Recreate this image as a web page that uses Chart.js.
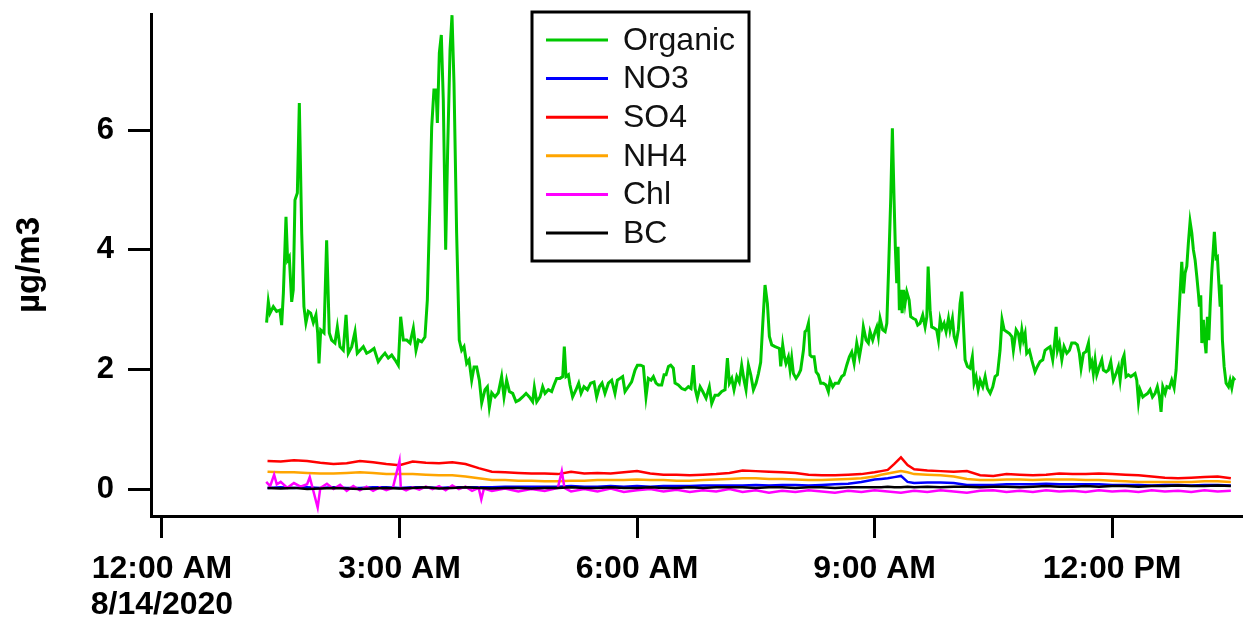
<!DOCTYPE html>
<html>
<head>
<meta charset="utf-8">
<title>Aerosol composition, 8/14/2020</title>
<script src="https://cdn.jsdelivr.net/npm/chart.js@4.4.1/dist/chart.umd.min.js"></script>
<style>
  html, body { margin: 0; padding: 0; background: #fff; }
  #wrap { width: 1243px; height: 620px; }
</style>
</head>
<body>
<div id="wrap"><canvas id="chart" width="1243" height="620"></canvas></div>
<script>
// ---------------------------------------------------------------------------
//  Species mass concentrations (µg/m3) on 8/14/2020.
//  x values are minutes after midnight.
// ---------------------------------------------------------------------------

const FONT = '"Liberation Sans", Arial, Helvetica, sans-serif';

// axis ticks
const xTickMinutes = [0, 180, 360, 540, 720];
const xTickLabels = [["12:00 AM", "8/14/2020"], "3:00 AM", "6:00 AM", "9:00 AM", "12:00 PM"];
const yTickValues = [0, 2, 4, 6];

// series names / colours (legend order)
const seriesNames = ["Organic", "NO3", "SO4", "NH4", "Chl", "BC"];
const seriesColors = ["#00c800", "#0000ff", "#ff0000", "#ffa500", "#ff00ff", "#000000"];

// Organic — irregular samples following the trace
const orgMinutes = [
  79.3, 80.6, 81.9, 84.4, 86.9, 89.4, 90.7, 92.0, 94.0, 95.2, 96.5, 98.3, 99.5, 100.8, 102.6, 104.1, 105.9, 107.6, 109.1, 110.9,
  112.7, 114.7, 116.7, 118.0, 119.0, 120.3, 122.8, 124.8, 126.8, 128.6, 131.1, 132.9, 134.9, 137.4, 139.5, 141.2, 143.8, 146.3, 148.0, 150.1,
  152.6, 155.1, 157.6, 160.7, 163.9, 166.5, 169.0, 171.5, 174.1, 176.6, 179.1, 180.9, 182.9, 185.5, 188.0, 190.5, 192.5, 194.3, 196.8, 199.3,
  201.1, 203.1, 204.4, 206.1, 207.7, 208.7, 210.2, 211.7, 213.2, 215.0, 216.5, 218.3, 219.8, 221.3, 223.3, 225.3, 227.1, 228.9, 230.9, 232.7,
  234.7, 236.5, 238.5, 240.5, 242.3, 244.8, 246.6, 248.1, 249.9, 252.4, 254.9,
  257.4, 259.2, 261.2, 263.3, 265.8, 268.3, 270.8, 273.3, 275.9, 278.4, 280.9, 282.2, 284.0, 286.5, 288.5, 290.3, 292.8, 295.3, 297.1, 299.1,
  301.6, 303.7, 304.9, 306.2, 308.0, 309.2, 311.2, 313.8, 315.8, 317.6, 319.8, 322.4, 324.9, 327.4, 329.4, 331.5, 333.5, 335.7, 338.3, 340.8,
  343.3, 345.1, 347.1, 349.1, 350.9, 353.4, 355.9, 358.5, 360.3, 362.8, 364.8, 366.8, 368.6, 370.6, 372.4, 374.4, 376.2, 378.7, 380.5, 382.0,
  383.8, 385.5, 387.5, 388.8, 391.3, 393.9, 396.4, 398.9, 400.9, 402.7, 404.0, 405.7, 407.8, 409.8, 412.3, 414.8, 416.6, 419.1, 421.6, 424.2,
  426.7, 428.5, 430.0, 431.8, 433.5, 435.6, 437.5, 439.3, 441.1, 442.6, 444.4, 446.2, 448.2, 450.2, 452.0, 453.7, 455.3, 457.0, 458.8, 460.3,
  462.1, 464.6,
  467.9, 468.9, 470.4, 471.7, 472.9, 474.7, 476.0, 477.2, 478.5, 480.5, 482.3, 484.0, 486.1, 487.3, 488.6, 489.9, 491.1, 492.4, 494.2, 495.7,
  497.4, 499.2, 501.2, 503.2, 505.0, 506.3, 508.3, 510.1, 512.6, 515.1, 516.9, 518.9, 520.9, 522.7, 524.5, 526.5, 528.5, 530.3, 531.5, 533.6,
  535.3, 536.6, 538.6, 540.4, 541.7, 542.9, 544.2, 546.2, 548.0, 549.3, 550.7, 552.3, 553.5, 554.8, 555.8, 556.8, 557.8, 558.8, 559.8, 560.9,
  561.9, 563.1, 564.4, 566.2, 567.4, 569.4, 571.2, 572.7, 574.5, 576.5, 578.3, 579.6, 580.6, 582.1, 583.3, 585.1, 587.1, 588.4, 589.7, 591.2,
  592.7, 594.2, 596.0, 597.2, 599.0, 600.3, 601.8, 603.5, 604.8, 606.1, 607.3, 608.6, 610.4, 612.4, 614.1, 615.4, 616.9, 618.5, 620.0, 622.0,
  623.8, 625.5, 627.6, 629.6, 631.3, 633.1, 635.1, 636.6, 638.2, 640.2, 642.2, 644.0, 645.2, 647.3, 649.0,
  650.3, 651.6, 652.8, 654.1, 655.3, 657.3, 659.1, 661.6, 663.4, 665.4, 667.5, 669.2, 671.0, 673.0, 675.0, 676.3, 677.6, 678.6, 680.1, 681.9,
  683.6, 685.7, 687.7, 689.4, 692.0, 693.7, 695.2, 696.5, 698.3, 700.3, 702.1, 703.3, 704.6, 705.8, 707.1, 708.4, 710.4, 712.2, 713.4, 715.5,
  717.2, 719.0, 721.0, 723.0, 724.8, 726.1, 727.8, 729.1, 730.6, 732.4, 734.2, 736.2, 737.4, 738.7, 740.0, 741.2, 743.3, 745.0, 747.0, 748.8,
  750.6, 752.6, 754.3, 755.9, 757.1, 758.4, 760.2, 761.5, 763.4, 765.2, 767.0, 768.5, 770.3, 771.5, 772.8, 774.1, 775.3, 776.6, 777.8, 779.1,
  780.4, 781.6, 782.9, 784.2, 785.4, 786.2, 787.2, 788.0, 789.2, 790.2, 791.2, 792.2, 793.3, 794.3, 795.5, 796.8, 797.5, 798.8, 799.8, 800.9,
  801.9, 802.6, 803.6, 804.9, 806.4, 808.2, 809.4, 810.7, 812.0, 813.2
];
const orgValues = [
  2.78, 3.13, 2.94, 3.05, 2.97, 2.99, 2.74, 3.27, 4.55, 3.83, 3.88, 3.13, 3.33, 4.83, 4.95, 6.45, 4.28, 3.05, 2.78, 2.97,
  2.94, 2.78, 2.91, 2.61, 2.10, 2.66, 2.61, 4.16, 2.61, 2.49, 2.44, 2.71, 2.38, 2.32, 2.91, 2.27, 2.38, 2.63, 2.27, 2.32,
  2.38, 2.27, 2.30, 2.35, 2.13, 2.21, 2.27, 2.19, 2.24, 2.16, 2.07, 2.88, 2.49, 2.49, 2.44, 2.69, 2.32, 2.49, 2.46, 2.54,
  3.16, 4.83, 6.05, 6.67, 6.67, 6.12, 7.29, 7.59, 6.50, 4.00, 5.67, 7.34, 7.92, 6.79, 4.28, 2.49, 2.32, 2.38, 2.10, 2.16,
  1.82, 2.04, 2.04, 1.82, 1.44, 1.66, 1.71, 1.37, 1.61, 1.54, 1.61,
  1.88, 1.54, 1.82, 1.63, 1.60, 1.46, 1.49, 1.54, 1.60, 1.54, 1.46, 1.70, 1.46, 1.54, 1.71, 1.60, 1.66, 1.63, 1.74, 1.85,
  1.85, 1.88, 2.38, 1.88, 1.91, 1.74, 1.54, 1.66, 1.77, 1.60, 1.71, 1.66, 1.77, 1.79, 1.54, 1.71, 1.77, 1.60, 1.77, 1.82,
  1.60, 1.82, 1.85, 1.88, 1.63, 1.71, 1.79, 1.99, 2.07, 2.07, 2.05, 1.54, 1.85, 1.82, 1.88, 1.77, 1.74, 1.74, 1.91, 1.91,
  2.05, 2.07, 2.02, 1.77, 1.74, 1.68, 1.66, 1.71, 1.68, 2.07, 1.68, 1.52, 1.71, 1.63, 1.52, 1.71, 1.43, 1.57, 1.57, 1.63,
  1.66, 2.19, 1.77, 1.85, 1.66, 1.88, 1.79, 2.07, 1.82, 1.66, 2.07, 1.91, 1.66, 1.77, 1.93, 2.12, 2.77, 3.41, 3.10, 2.55,
  2.41, 2.38,
  2.35, 2.05, 2.41, 2.21, 2.10, 2.21, 1.99, 2.19, 1.93, 1.85, 1.91, 1.99, 2.32, 2.63, 2.66, 2.77, 2.24, 2.21, 2.21, 1.96,
  1.91, 1.77, 1.77, 1.74, 1.63, 1.82, 1.71, 1.77, 1.77, 1.88, 1.91, 2.07, 2.21, 2.29, 2.10, 2.44, 2.21, 2.44, 2.71, 2.49,
  2.44, 2.63, 2.49, 2.63, 2.71, 2.55, 2.85, 2.66, 2.63, 2.77, 3.72, 4.89, 6.03, 4.83, 4.00, 3.44, 4.05, 2.99, 3.33, 2.94,
  3.33, 3.10, 3.30, 3.16, 2.88, 2.85, 2.83, 2.74, 2.77, 2.91, 2.71, 2.88, 3.72, 2.99, 2.71, 2.69, 2.66, 2.49, 2.83, 2.69,
  2.77, 2.63, 2.85, 2.66, 2.85, 2.55, 2.44, 2.66, 3.10, 3.30, 2.77, 2.16, 2.05, 2.02, 2.21, 1.77, 1.88, 1.66, 1.82, 1.71,
  1.88, 1.68, 1.60, 1.71, 1.88, 1.91, 2.32, 2.83, 2.66, 2.63, 2.60, 2.55, 2.32, 2.66, 2.60,
  2.41, 2.66, 2.49, 2.60, 2.27, 2.32, 2.16, 1.96, 2.05, 2.13, 2.16, 2.32, 2.35, 2.38, 2.16, 2.41, 2.71, 2.32, 2.44, 2.16,
  2.38, 2.27, 2.32, 2.44, 2.44, 2.41, 2.27, 2.02, 2.27, 2.30, 2.44, 2.05, 2.13, 1.93, 2.16, 1.91, 2.05, 2.16, 1.99, 1.96,
  1.99, 2.13, 1.82, 1.93, 2.05, 1.82, 2.16, 2.24, 1.88, 1.91, 1.88, 1.91, 1.93, 1.82, 1.46, 1.66, 1.54, 1.57, 1.60, 1.66,
  1.54, 1.60, 1.71, 1.54, 1.29, 1.71, 1.60, 1.71, 1.69, 1.82, 1.69, 1.99, 2.77, 3.27, 3.80, 3.27, 3.61, 3.72, 4.11, 4.47,
  4.28, 4.00, 3.83, 3.55, 3.27, 3.05, 3.24, 2.44, 2.83, 2.49, 2.27, 2.88, 2.49, 3.05, 3.61, 4.05, 4.30, 3.86, 3.88, 3.44,
  3.05, 3.42, 2.49, 2.05, 1.77, 1.71, 1.82, 1.69, 1.85, 1.82
];

// NO3, SO4, NH4, BC — shared time grid
const lowMinutes = [
  80, 90, 100, 110, 120, 130, 140, 150, 160, 170,
  180, 190, 200, 210, 220, 230, 240, 250, 260, 270,
  280, 290, 300, 310, 320, 330, 340, 350, 360, 370,
  380, 390, 400, 410, 420, 430, 440, 450, 460, 470,
  480, 490, 500, 510, 520, 530, 540,
  545, 550, 555, 560, 565,
  570, 580, 590, 600, 610, 620, 630, 640, 650, 660,
  670, 680, 690, 700, 710, 720, 730, 740, 750, 760,
  770, 780, 790, 800, 810
];
const so4Values = [
  0.47, 0.46, 0.48, 0.47, 0.44, 0.42, 0.43, 0.47, 0.45, 0.42,
  0.40, 0.46, 0.44, 0.43, 0.45, 0.42, 0.35, 0.29, 0.28, 0.27,
  0.26, 0.26, 0.25, 0.29, 0.26, 0.27, 0.26, 0.28, 0.30, 0.26,
  0.24, 0.24, 0.23, 0.24, 0.25, 0.27, 0.31, 0.30, 0.29, 0.28,
  0.27, 0.24, 0.23, 0.23, 0.24, 0.25, 0.28,
  0.30, 0.32, 0.42, 0.53, 0.40,
  0.33, 0.31, 0.30, 0.29, 0.30, 0.23, 0.22, 0.25, 0.24, 0.23,
  0.24, 0.26, 0.25, 0.25, 0.26, 0.25, 0.24, 0.23, 0.21, 0.19,
  0.18, 0.19, 0.20, 0.21, 0.18
];
const nh4Values = [
  0.29, 0.28, 0.28, 0.27, 0.26, 0.26, 0.27, 0.28, 0.27, 0.25,
  0.25, 0.25, 0.24, 0.23, 0.23, 0.21, 0.18, 0.15, 0.15, 0.14,
  0.14, 0.13, 0.13, 0.14, 0.14, 0.15, 0.15, 0.15, 0.16, 0.15,
  0.15, 0.14, 0.14, 0.15, 0.16, 0.17, 0.18, 0.18, 0.17, 0.17,
  0.16, 0.15, 0.15, 0.16, 0.17, 0.18, 0.21,
  0.24, 0.26, 0.28, 0.30, 0.28,
  0.25, 0.24, 0.23, 0.21, 0.17, 0.15, 0.15, 0.16, 0.16, 0.15,
  0.16, 0.16, 0.16, 0.15, 0.15, 0.14, 0.13, 0.12, 0.12, 0.12,
  0.12, 0.12, 0.13, 0.13, 0.12
];
const no3Values = [
  0.02, 0.03, 0.02, 0.03, 0.02, 0.03, 0.02, 0.02, 0.03, 0.03,
  0.02, 0.03, 0.03, 0.02, 0.03, 0.03, 0.03, 0.03, 0.04, 0.04,
  0.04, 0.04, 0.04, 0.05, 0.04, 0.04, 0.05, 0.04, 0.05, 0.04,
  0.05, 0.05, 0.05, 0.06, 0.06, 0.06, 0.06, 0.07, 0.06, 0.07,
  0.07, 0.06, 0.07, 0.08, 0.09, 0.12, 0.16,
  0.17, 0.18, 0.20, 0.22, 0.12,
  0.10, 0.11, 0.11, 0.10, 0.07, 0.07, 0.07, 0.08, 0.08, 0.08,
  0.09, 0.08, 0.08, 0.08, 0.08, 0.07, 0.07, 0.07, 0.06, 0.07,
  0.07, 0.06, 0.07, 0.07, 0.06
];
const bcValues = [
  0.02, 0.01, 0.02, 0.00, 0.01, 0.02, 0.01, 0.00, 0.01, 0.02,
  0.01, 0.02, 0.03, 0.01, 0.02, 0.03, 0.02, 0.01, 0.02, 0.02,
  0.01, 0.02, 0.02, 0.03, 0.02, 0.02, 0.03, 0.02, 0.02, 0.03,
  0.02, 0.02, 0.03, 0.02, 0.03, 0.03, 0.03, 0.02, 0.03, 0.03,
  0.02, 0.03, 0.03, 0.02, 0.03, 0.03, 0.03,
  0.03, 0.04, 0.03, 0.03, 0.04,
  0.03, 0.04, 0.03, 0.04, 0.04, 0.03, 0.04, 0.04, 0.03, 0.04,
  0.05, 0.04, 0.04, 0.05, 0.04, 0.05, 0.05, 0.04, 0.05, 0.05,
  0.06, 0.05, 0.05, 0.06, 0.05
];

// Chl — own time points (spiky)
const chlMinutes = [
  79, 82, 85, 87, 90, 95, 100, 105, 110, 112, 114, 118, 120, 125, 130, 135, 140, 145, 150, 155,
  160, 165, 170, 175, 180, 181, 185, 190, 195, 200, 205, 210, 215, 220, 225, 230, 235, 240, 242, 244,
  250, 260, 270, 280, 290, 300, 303, 305, 310, 320, 330, 340, 350, 360, 370, 380, 390, 400, 410, 420,
  430, 440, 450, 460, 470, 480, 490, 500, 510, 520, 530, 540, 550, 560, 570, 580, 590, 600, 610, 620,
  630, 640, 650, 660, 670, 680, 690, 700, 710, 720, 730, 740, 750, 760, 770, 780, 790, 800, 810
];
const chlValues = [
  0.12, 0.05, 0.24, 0.08, 0.12, 0.02, 0.10, 0.04, 0.08, 0.20, 0.03, -0.31, 0.02, 0.09, 0.00, 0.07, -0.03, 0.05, -0.02, 0.04,
  -0.03, 0.03, -0.02, 0.02, 0.47, 0.02, -0.02, 0.03, -0.01, 0.04, 0.00, 0.05, -0.02, 0.06, 0.00, 0.04, -0.03, 0.02, -0.17, 0.01,
  -0.03, 0.01, -0.04, 0.00, -0.03, 0.02, 0.30, 0.02, -0.04, 0.00, -0.04, 0.01, -0.05, -0.02, 0.00, -0.04, -0.01, -0.05, -0.02, -0.04,
  0.00, -0.05, -0.02, -0.06, -0.03, -0.05, -0.02, -0.04, -0.06, -0.03, -0.05, -0.02, -0.04, -0.06, -0.03, -0.05, -0.02, -0.04, -0.06, -0.03,
  -0.02, -0.05, -0.03, -0.05, -0.02, -0.04, -0.03, -0.05, -0.02, -0.04, -0.03, -0.05, -0.02, -0.04, -0.03, -0.05, -0.02, -0.04, -0.03
];

// ---------------------------------------------------------------------------

const toPoints = (xs, ys) => xs.map((x, i) => ({ x: x, y: ys[i] }));

function line(i, xs, ys, width, order) {
  return {
    label: seriesNames[i],
    data: toPoints(xs, ys),
    borderColor: seriesColors[i],
    backgroundColor: seriesColors[i],
    borderWidth: width,
    pointRadius: 0,
    tension: 0,
    fill: false,
    order: order
  };
}

// legend drawn inside the plot with a frame, like the original figure
const boxLegend = {
  id: "boxLegend",
  afterDatasetsDraw(chart) {
    const ctx = chart.ctx;
    const left = 532, top = 12, w = 217, h = 249, row = 38.6;
    ctx.save();
    ctx.fillStyle = "#fff";
    ctx.fillRect(left, top, w, h);
    ctx.lineWidth = 3;
    ctx.strokeStyle = "#000";
    ctx.strokeRect(left, top, w, h);
    ctx.font = "32px " + FONT;
    ctx.textBaseline = "middle";
    chart.data.datasets.forEach((ds, i) => {
      const y = top + 28 + i * row;
      ctx.strokeStyle = ds.borderColor;
      ctx.lineWidth = 3;
      ctx.beginPath();
      ctx.moveTo(left + 14, y);
      ctx.lineTo(left + 76, y);
      ctx.stroke();
      ctx.fillStyle = "#111";
      ctx.fillText(ds.label, left + 91, y + 1);
    });
    ctx.restore();
  }
};

new Chart(document.getElementById("chart"), {
  type: "line",
  data: {
    datasets: [
      line(0, orgMinutes, orgValues, 3, 0),
      line(1, lowMinutes, no3Values, 2.5, 3),
      line(2, lowMinutes, so4Values, 2.5, 5),
      line(3, lowMinutes, nh4Values, 2.5, 4),
      line(4, chlMinutes, chlValues, 2.5, 2),
      line(5, lowMinutes, bcValues, 2.5, 1)
    ]
  },
  options: {
    responsive: false,
    animation: false,
    layout: { padding: { top: 14, right: 0, bottom: 0, left: 0 } },
    plugins: { legend: { display: false }, tooltip: { enabled: false } },
    scales: {
      x: {
        type: "linear",
        min: -8.3,
        max: 819.2,
        border: { display: true, color: "#000", width: 3 },
        grid: { drawOnChartArea: false, drawTicks: true, tickLength: 22, tickWidth: 3, tickColor: "#000", color: "#000" },
        ticks: {
          autoSkip: false,
          maxRotation: 0,
          padding: 13,
          color: "#000",
          font: { family: FONT, size: 32, weight: "bold", lineHeight: 1.12 },
          callback: (v, i) => xTickLabels[i]
        },
        afterBuildTicks: (axis) => { axis.ticks = xTickMinutes.map(v => ({ value: v })); },
        afterFit: (s) => { s.height = 104; s.paddingLeft = 0; s.paddingRight = 0; }
      },
      y: {
        type: "linear",
        min: -0.45,
        max: 7.94,
        border: { display: true, color: "#000", width: 3 },
        grid: { drawOnChartArea: false, drawTicks: true, tickLength: 23, tickWidth: 3, tickColor: "#000", color: "#000" },
        ticks: {
          autoSkip: false,
          padding: 14,
          color: "#000",
          font: { family: FONT, size: 31, weight: "bold" },
          callback: (v) => String(v)
        },
        title: {
          display: true,
          text: "µg/m3",
          color: "#000",
          font: { family: FONT, size: 33, weight: "bold" },
          padding: { top: 10, bottom: 0 }
        },
        afterBuildTicks: (axis) => { axis.ticks = yTickValues.map(v => ({ value: v })); },
        afterFit: (s) => { s.width = 151; s.paddingTop = 0; s.paddingBottom = 0; }
      }
    }
  },
  plugins: [boxLegend]
});
</script>
</body>
</html>
